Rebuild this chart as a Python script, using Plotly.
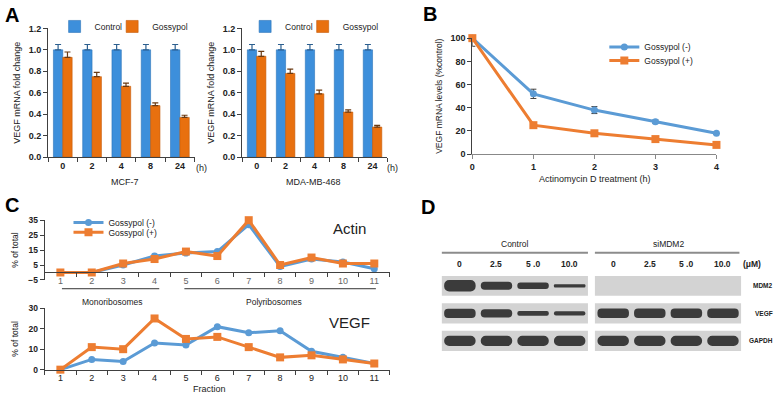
import plotly.graph_objects as go

W, H = 778, 400
def fx(p): return p / W
def fy(p): return 1 - p / H

# ---------------- data ----------------
a_times = ["0", "2", "4", "8", "24"]
a_mcf7_control = [1.0, 1.0, 1.0, 1.0, 1.0]
a_mcf7_control_err = [0.05, 0.05, 0.05, 0.05, 0.05]
a_mcf7_goss = [0.93, 0.75, 0.66, 0.48, 0.37]
a_mcf7_goss_err = [0.05, 0.04, 0.03, 0.025, 0.02]
a_mda_control = [1.0, 1.0, 1.0, 1.0, 1.0]
a_mda_control_err = [0.05, 0.05, 0.05, 0.05, 0.05]
a_mda_goss = [0.94, 0.78, 0.59, 0.42, 0.28]
a_mda_goss_err = [0.045, 0.04, 0.035, 0.02, 0.015]

b_hours = [0, 1, 2, 3, 4]
b_goss_minus = [100, 52, 38, 28, 18]
b_goss_minus_err = [7, 4, 3, 1.5, 1]
b_goss_plus = [100, 25, 18, 13, 8]

c_fraction = [1, 2, 3, 4, 5, 6, 7, 8, 9, 10, 11]
c_actin_minus = [0, 0, 5, 11, 13, 14, 32, 4, 9, 7, 2.5]
c_actin_plus = [0, 0, 6, 9, 14, 11, 35, 5, 10, 6, 6]
c_vegf_minus = [0, 5, 4, 13, 12, 21, 18, 19, 9, 6, 3]
c_vegf_plus = [0, 11, 10, 25, 15, 16, 11, 6, 7, 5, 3]

d_lane_labels = ["0", "2.5", "5 .0", "10.0", "0", "2.5", "5 .0", "10.0"]
d_groups = ["Control", "siMDM2"]
d_rows = ["MDM2", "VEGF", "GAPDH"]
d_mdm2 = [1.0, 0.7, 0.55, 0.28, 0, 0, 0, 0]
d_vegf = [0.8, 0.7, 0.42, 0.38, 0.82, 0.82, 0.82, 0.82]
d_gapdh = [0.88, 0.88, 0.88, 0.88, 0.88, 0.88, 0.88, 0.88]

# ---------------- style ----------------
FONT = "Liberation Sans"
BLUE_BAR = "#3d8fdb"
ORANGE_BAR = "#e8700f"
BLUE = "#5b9bd5"
ORANGE = "#ed7d31"
AX = "#404040"

fig = go.Figure()
idx = list(range(len(a_times)))

# Panel A
for (ctrl, cerr, gos, gerr, xa, ya, lg1, lg2) in [
    (a_mcf7_control, a_mcf7_control_err, a_mcf7_goss, a_mcf7_goss_err, "x", "y", "legend", "legend2"),
    (a_mda_control, a_mda_control_err, a_mda_goss, a_mda_goss_err, "x2", "y2", "legend3", "legend4"),
]:
    fig.add_trace(go.Bar(x=idx, y=ctrl, name="Control", xaxis=xa, yaxis=ya, legend=lg1,
                         marker=dict(color=BLUE_BAR, line=dict(color="#2c73b8", width=0.6)),
                         error_y=dict(type="data", symmetric=False, array=cerr,
                                      arrayminus=[0] * len(cerr), color="#2c5f8f",
                                      thickness=1.2, width=3)))
    fig.add_trace(go.Bar(x=idx, y=gos, name="Gossypol", xaxis=xa, yaxis=ya, legend=lg2,
                         marker=dict(color=ORANGE_BAR, line=dict(color="#c55a08", width=0.6)),
                         error_y=dict(type="data", symmetric=False, array=gerr,
                                      arrayminus=[0] * len(gerr), color="#6b3a12",
                                      thickness=1.2, width=3)))

# Panel B
fig.add_trace(go.Scatter(x=b_hours, y=b_goss_minus, name="Gossypol (-)", mode="lines+markers",
                         xaxis="x3", yaxis="y3", legend="legend5", cliponaxis=False,
                         line=dict(color=BLUE, width=3), marker=dict(symbol="circle", size=7, color=BLUE),
                         error_y=dict(type="data", array=b_goss_minus_err, color="#404040",
                                      thickness=1, width=3)))
fig.add_trace(go.Scatter(x=b_hours, y=b_goss_plus, name="Gossypol (+)", mode="lines+markers",
                         xaxis="x3", yaxis="y3", legend="legend6", cliponaxis=False,
                         line=dict(color=ORANGE, width=3), marker=dict(symbol="square", size=8, color=ORANGE)))

# Panel C
fig.add_trace(go.Scatter(x=c_fraction, y=c_actin_minus, name="Gossypol (-)", mode="lines+markers",
                         xaxis="x4", yaxis="y4", legend="legend7", cliponaxis=False,
                         line=dict(color=BLUE, width=3), marker=dict(symbol="circle", size=7, color=BLUE)))
fig.add_trace(go.Scatter(x=c_fraction, y=c_actin_plus, name="Gossypol (+)", mode="lines+markers",
                         xaxis="x4", yaxis="y4", legend="legend8", cliponaxis=False,
                         line=dict(color=ORANGE, width=3), marker=dict(symbol="square", size=8, color=ORANGE)))
fig.add_trace(go.Scatter(x=c_fraction, y=c_vegf_minus, name="Gossypol (-)", mode="lines+markers",
                         xaxis="x5", yaxis="y5", showlegend=False, cliponaxis=False,
                         line=dict(color=BLUE, width=3), marker=dict(symbol="circle", size=7, color=BLUE)))
fig.add_trace(go.Scatter(x=c_fraction, y=c_vegf_plus, name="Gossypol (+)", mode="lines+markers",
                         xaxis="x5", yaxis="y5", showlegend=False, cliponaxis=False,
                         line=dict(color=ORANGE, width=3), marker=dict(symbol="square", size=8, color=ORANGE)))

# Panel D (western blot bands as bars)
GAP = 0.19
lane_x = [i + (GAP if i >= 4 else 0) for i in range(len(d_lane_labels))]
BAND_SCALE = 0.42
shapes = []
for r, (row_name, vals) in enumerate(zip(d_rows, [d_mdm2, d_vegf, d_gapdh])):
    th = [v * BAND_SCALE for v in vals]
    fig.add_trace(go.Bar(x=lane_x, y=th, base=[r - t / 2 for t in th], name=row_name,
                         xaxis="x6", yaxis="y6", showlegend=False, width=0.86, offset=-0.43,
                         marker=dict(color="#262626", opacity=0.88, cornerradius="45%",
                                     line=dict(width=0))))
    for (x0, x1) in [(-0.5, 3.5), (3.5 + GAP, 7.5 + GAP)]:
        shapes.append(dict(type="rect", xref="x6", yref="y6", x0=x0, x1=x1,
                           y0=r - 0.365, y1=r + 0.365, fillcolor="#d3d3d3",
                           line=dict(width=0), layer="below"))

# group lines over the blot
shapes.append(dict(type="line", xref="x6", yref="paper", x0=-0.5, x1=3.5, y0=fy(254), y1=fy(254),
                   line=dict(color="#8c8c8c", width=2)))
shapes.append(dict(type="line", xref="x6", yref="paper", x0=3.5 + GAP, x1=7.45 + GAP, y0=fy(254), y1=fy(254),
                   line=dict(color="#8c8c8c", width=2)))
# ribosome bracket lines in panel C
shapes.append(dict(type="line", xref="x5", yref="paper", x0=1.05, x1=4.15, y0=fy(291), y1=fy(291),
                   line=dict(color="#333333", width=1)))
shapes.append(dict(type="line", xref="x5", yref="paper", x0=4.95, x1=11.05, y0=fy(291), y1=fy(291),
                   line=dict(color="#333333", width=1)))

tickfont = dict(family=FONT, size=9, color="#222222", weight="bold")

def cat_xaxis(dom, anchor):
    return dict(domain=dom, anchor=anchor, range=[-0.5, 4.5], tickmode="array", tickvals=idx,
                ticktext=a_times, ticks="", showline=True, linecolor=AX, linewidth=1,
                showgrid=False, zeroline=False, tickfont=tickfont,
                minor=dict(tickmode="linear", tick0=0.5, dtick=1, ticks="outside", ticklen=4,
                           tickcolor=AX, showgrid=False))

def a_yaxis(dom, anchor, title):
    return dict(domain=dom, anchor=anchor, range=[0, 1.2], dtick=0.2, tickformat=".1f",
                ticks="outside", ticklen=4, tickcolor=AX, showline=True, linecolor=AX,
                showgrid=False, zeroline=False, tickfont=tickfont,
                title=dict(text=title, font=dict(family=FONT, size=9, color="#222"), standoff=6))

legend_common = dict(bgcolor="rgba(0,0,0,0)", font=dict(family=FONT, size=8.5, color="#222"),
                     xanchor="left", yanchor="middle", itemwidth=30, borderwidth=0)

def leg(xpx, ypx):
    d = dict(legend_common)
    d.update(x=fx(xpx), y=fy(ypx))
    return d

layout = dict(
    width=W, height=H, margin=dict(l=0, r=0, t=0, b=0),
    paper_bgcolor="white", plot_bgcolor="rgba(0,0,0,0)",
    barmode="group", bargap=0.36, bargroupgap=0,
    font=dict(family=FONT, size=9, color="#222"),
    xaxis=cat_xaxis([fx(45.5), fx(193)], "y"),
    yaxis=a_yaxis([fy(156), fy(24)], "x", "VEGF mRNA fold change"),
    xaxis2=cat_xaxis([fx(241), fx(387)], "y2"),
    yaxis2=a_yaxis([fy(156), fy(24)], "x2", "VEGF mRNA fold change"),
    xaxis3=dict(domain=[fx(473), fx(719)], anchor="y3", range=[0, 4], dtick=1, ticks="outside",
                ticklen=4, tickcolor="#888", showline=True, linecolor="#888", showgrid=False,
                zeroline=False, tickfont=tickfont),
    yaxis3=dict(domain=[fy(153), fy(34)], anchor="x3", range=[0, 100], dtick=20, ticks="outside",
                ticklen=4, tickcolor=AX, showline=True, linecolor=AX, showgrid=False,
                zeroline=False, tickfont=tickfont,
                title=dict(text="VEGF mRNA levels (%control)", font=dict(family=FONT, size=8.5, color="#222"),
                           standoff=6)),
    xaxis4=dict(domain=[fx(42), fx(390)], anchor="free", position=fy(274.3), range=[0.5, 11.5],
                tickmode="linear", tick0=1, dtick=1, ticks="", showline=True, linecolor="#404040",
                showgrid=False, zeroline=False, tickfont=dict(family=FONT, size=9, color="#666"),
                minor=dict(tickmode="linear", tick0=0.5, dtick=1, ticks="outside", ticklen=4,
                           tickcolor="#404040", showgrid=False)),
    yaxis4=dict(domain=[fy(282), fy(220.7)], anchor="x4", range=[-5, 35], tickmode="linear",
                tick0=-5, dtick=10, ticks="outside", ticklen=4, tickcolor=AX, showline=True,
                linecolor=AX, showgrid=False, zeroline=False,
                tickfont=dict(family=FONT, size=8.5, color="#222", weight="bold"),
                title=dict(text="% of total", font=dict(family=FONT, size=8.5, color="#222"), standoff=8)),
    xaxis5=dict(domain=[fx(42), fx(390)], anchor="y5", range=[0.5, 11.5],
                tickmode="linear", tick0=1, dtick=1, ticks="", showline=True, linecolor="#404040",
                showgrid=False, zeroline=False, tickfont=dict(family=FONT, size=9, color="#222"),
                minor=dict(tickmode="linear", tick0=0.5, dtick=1, ticks="outside", ticklen=4,
                           tickcolor="#404040", showgrid=False)),
    yaxis5=dict(domain=[fy(374), fy(311)], anchor="x5", range=[0, 30], dtick=10, ticks="outside",
                ticklen=4, tickcolor=AX, showline=True, linecolor=AX, showgrid=False,
                zeroline=False, tickfont=dict(family=FONT, size=8.5, color="#222", weight="bold"),
                title=dict(text="% of total", font=dict(family=FONT, size=8.5, color="#222"), standoff=8)),
    xaxis6=dict(domain=[fx(442), fx(744)], anchor="y6", range=[-0.5, 7.5 + GAP], visible=False),
    yaxis6=dict(domain=[fy(355), fy(278)], anchor="x6", range=[2.372, -0.354], visible=False),
    legend=leg(52, 22), legend2=leg(110, 22),
    legend3=leg(244, 22), legend4=leg(302, 22),
    legend5=leg(606, 43), legend6=leg(606, 57),
    legend7=leg(66, 223), legend8=leg(66, 233),
    shapes=shapes,
)
fig.update_layout(**layout)

ann = []
def text(t, xpx, ypx, size=9, bold=False, xanchor="center", color="#222"):
    ann.append(dict(text=("<b>%s</b>" % t) if bold else t, x=fx(xpx), y=fy(ypx), xref="paper",
                    yref="paper", showarrow=False, xanchor=xanchor, yanchor="middle",
                    font=dict(family=FONT, size=size, color=color)))

# panel letters
text("A", 0, 10, 20, True, "left", "black")
text("B", 421, 9, 20, True, "left", "black")
text("C", 0, 205, 20, True, "left", "black")
text("D", 419, 207, 20, True, "left", "black")
# axis labels/units
text("MCF-7", 123, 182, 9)
text("MDA-MB-468", 313, 182, 9)
text("(h)", 192, 167, 9, False, "left")
text("(h)", 385, 167, 9, False, "left")
text("Actinomycin D treatment (h)", 597, 178, 9)
text("Actin", 349, 229, 15, False)
text("VEGF", 349, 326, 15, False)
text("Monoribosomes", 110, 305, 8.5)
text("Polyribosomes", 273, 305, 8.5)
text("Fraction", 208, 394, 9)
# blot labels
group_cx = [(lane_x[0] + lane_x[3]) / 2, (lane_x[4] + lane_x[7]) / 2]
for g, cx in zip(d_groups, group_cx):
    ann.append(dict(text=g, x=cx, y=fy(245), xref="x6", yref="paper", showarrow=False,
                    font=dict(family=FONT, size=8.5, color="#222")))
for lab, lx in zip(d_lane_labels, lane_x):
    ann.append(dict(text="<b>%s</b>" % lab, x=lx, y=fy(266), xref="x6", yref="paper",
                    showarrow=False, font=dict(family=FONT, size=8.5, color="#222")))
ann.append(dict(text="<b>(μM)</b>", x=fx(744), y=fy(266), xref="paper", yref="paper",
                showarrow=False, xanchor="left", font=dict(family=FONT, size=8.5, color="#222")))
for r, name in enumerate(d_rows):
    ann.append(dict(text="<b>%s</b>" % name, x=fx(777), y=r, xref="paper", yref="y6",
                    showarrow=False, xanchor="right", borderpad=0,
                    font=dict(family=FONT, size=6.5, color="#222")))
fig.update_layout(annotations=ann)

fig.write_html("out.html", config={"displayModeBar": False},
               post_script="document.body.style.margin='0';document.body.style.overflow='hidden';")
